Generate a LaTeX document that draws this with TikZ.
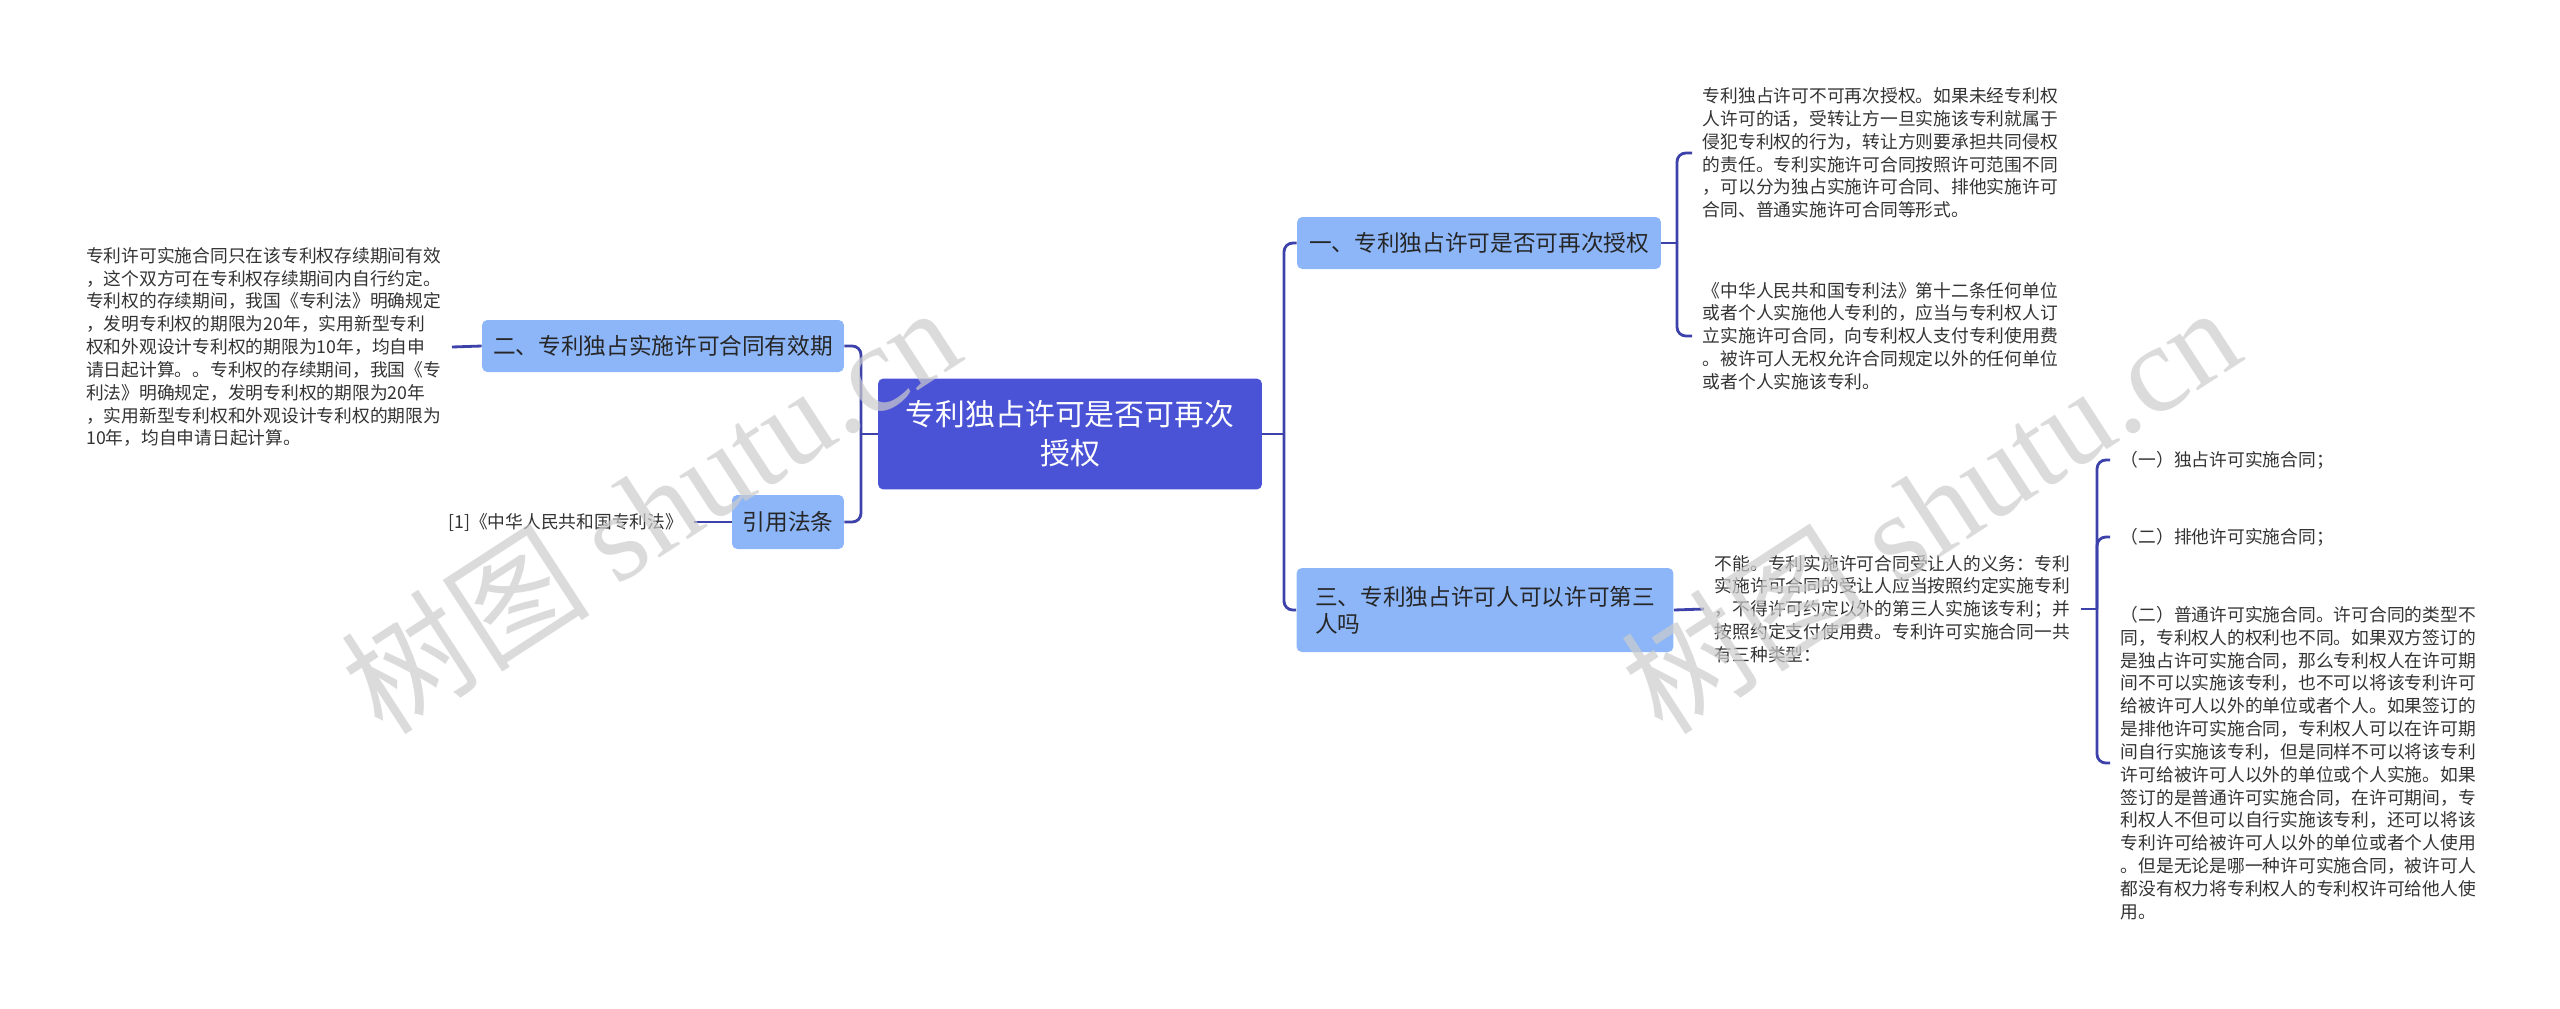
\documentclass[tikz,border=0pt]{standalone}
\usepackage{fontspec}
\setmainfont{Noto Sans CJK SC}
\newfontfamily\wmfont{Liberation Serif}
\usetikzlibrary{positioning}
\definecolor{rootblue}{HTML}{4A52D6}
\definecolor{branchblue}{HTML}{8DB6F9}
\definecolor{linkblue}{HTML}{3C42AA}
\definecolor{leafgray}{HTML}{333333}

\begin{document}
\begin{tikzpicture}[x=0.02cm, y=-0.02cm]
\tikzset{rootbox/.style={fill=rootblue, text=white, rounded corners=3pt, font=\fontsize{17}{22}\selectfont, align=center, minimum width=7.68cm, minimum height=2.22cm, inner sep=0pt}}
\tikzset{branchbox/.style={fill=branchblue, text=black!85, rounded corners=3pt, font=\fontsize{12.9}{15.4}\selectfont, inner sep=0pt}}
\tikzset{leaftext/.style={text=leafgray, font=\fontsize{10.1}{13}\selectfont, align=left, inner xsep=6pt, inner ysep=0pt, anchor=west}}
\tikzset{link/.style={draw=linkblue, line width=1.6pt, rounded corners=5pt}}
\tikzset{wmark/.style={text=black!20, opacity=0.7, font=\fontsize{71}{71}\selectfont, rotate=33}}
\useasboundingbox (0,0) rectangle (2560,1008);

% centre
\node[rootbox] (root) at (1070,434) {专利独占许可是否可再次\\授权};

% main branches
\node[branchbox, minimum width=7.28cm, minimum height=1.04cm] (b1) at (1479,243) {一、专利独占许可是否可再次授权};
\node[branchbox, minimum width=7.54cm, minimum height=1.68cm, align=left] (b3) at (1485,610) {三、专利独占许可人可以许可第三\\人吗};
\node[branchbox, minimum width=7.24cm, minimum height=1.04cm] (b2) at (663,346) {二、专利独占实施许可合同有效期};
\node[branchbox, minimum width=2.24cm, minimum height=1.08cm] (law) at (788,522) {引用法条};

% leaves, left side
\node[leaftext, anchor=east] (l2) at (452,347) {专利许可实施合同只在该专利权存续期间有效\\，这个双方可在专利权存续期间内自行约定。\\专利权的存续期间，我国《专利法》明确规定\\，发明专利权的期限为20年，实用新型专利\\权和外观设计专利权的期限为10年，均自申\\请日起计算。。专利权的存续期间，我国《专\\利法》明确规定，发明专利权的期限为20年\\，实用新型专利权和外观设计专利权的期限为\\10年，均自申请日起计算。};
\node[leaftext, anchor=east] (cite) at (694,522) {[1]《中华人民共和国专利法》};

% leaves, right side
\node[leaftext] (l1a) at (1692,153) {专利独占许可不可再次授权。如果未经专利权\\人许可的话，受转让方一旦实施该专利就属于\\侵犯专利权的行为，转让方则要承担共同侵权\\的责任。专利实施许可合同按照许可范围不同\\，可以分为独占实施许可合同、排他实施许可\\合同、普通实施许可合同等形式。};
\node[leaftext] (l1b) at (1692,336) {《中华人民共和国专利法》第十二条任何单位\\或者个人实施他人专利的，应当与专利权人订\\立实施许可合同，向专利权人支付专利使用费\\。被许可人无权允许合同规定以外的任何单位\\或者个人实施该专利。};
\node[leaftext] (l3) at (1704,609) {不能。专利实施许可合同受让人的义务：专利\\实施许可合同的受让人应当按照约定实施专利\\，不得许可约定以外的第三人实施该专利；并\\按照约定支付使用费。专利许可实施合同一共\\有三种类型：};
\node[leaftext] (s1) at (2110,460) {（一）独占许可实施合同；};
\node[leaftext] (s2) at (2110,537) {（二）排他许可实施合同；};
\node[leaftext] (s3) at (2110,763) {（二）普通许可实施合同。许可合同的类型不\\同，专利权人的权利也不同。如果双方签订的\\是独占许可实施合同，那么专利权人在许可期\\间不可以实施该专利，也不可以将该专利许可\\给被许可人以外的单位或者个人。如果签订的\\是排他许可实施合同，专利权人可以在许可期\\间自行实施该专利，但是同样不可以将该专利\\许可给被许可人以外的单位或个人实施。如果\\签订的是普通许可实施合同，在许可期间，专\\利权人不但可以自行实施该专利，还可以将该\\专利许可给被许可人以外的单位或者个人使用\\。但是无论是哪一种许可实施合同，被许可人\\都没有权力将专利权人的专利权许可给他人使\\用。};

% junctions
\coordinate (rj) at (1284,434);
\coordinate (lj) at (861,434);
\coordinate (j1) at (1677,243);
\coordinate (j3) at (2097,609);

% connectors
\draw[link] (root.east) -- (rj);
\foreach \b in {b1,b3} {\draw[link] (rj) |- (\b.west);}
\draw[link] (root.west) -- (lj);
\foreach \b in {b2,law} {\draw[link] (lj) |- (\b.east);}
\draw[link] (l2.east) -- (b2.west);
\draw[link] (cite.east) -- (law.west);
\draw[link] (b1.east) -- (j1);
\foreach \l in {l1a,l1b} {\draw[link] (j1) |- (\l.west);}
\draw[link] (b3.east) -- (l3.west);
\draw[link] (l3.east) -- (j3);
\foreach \s in {s1,s2,s3} {\draw[link] (j3) |- (\s.west);}

% watermark
\node[wmark] (wm1) at (650,508) {树图 {\wmfont shutu.cn}};
\node[wmark] (wm2) at (1930,508) {树图 {\wmfont shutu.cn}};
\end{tikzpicture}
\end{document}
